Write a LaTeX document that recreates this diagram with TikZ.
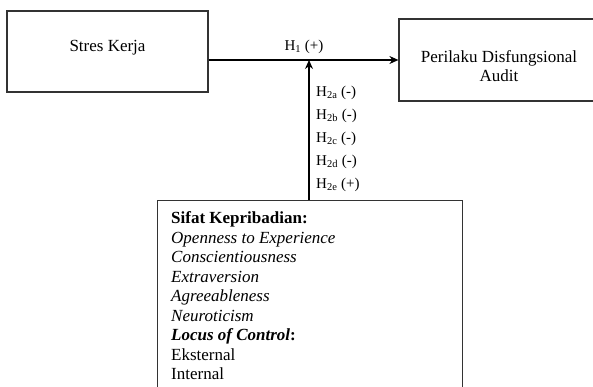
\documentclass[tikz,border=0pt]{standalone}
\usepackage{fontspec}
\setmainfont{Liberation Serif}
\usetikzlibrary{arrows.meta,calc}
\begin{document}
\begin{tikzpicture}[x=1pt,y=-1pt,
  box/.style={draw=black!80,line width=1.2pt,rectangle,inner sep=0pt,align=center,
    font=\fontsize{17}{19.5}\selectfont},
  conn/.style={draw=black,line width=1.3pt,-{Stealth[length=9pt,width=8pt]}},
  lbl/.style={inner sep=0pt,align=left,font=\fontsize{15}{23}\selectfont},
  txt/.style={inner sep=0pt,font=\fontsize{17}{19.5}\selectfont},
  listtext/.style={inner sep=0pt,align=left,font=\fontsize{17}{19.5}\selectfont}
]
\clip (0,0) rectangle (593,387);
\fill[white] (0,0) rectangle (593,387);
\node[box,minimum width=201pt,minimum height=81pt] (sk) at (107.5,51.5) {};
\node[txt] (sktext) at (107.5,48) {Stres Kerja};
\node[box,minimum width=200pt,minimum height=82pt] (pd) at (499,60) {};
\node[txt,align=center] (pdtext) at (499,66) {Perilaku Disfungsional\\Audit};
\node[box,minimum width=305pt,minimum height=220pt,anchor=north west] (sb) at (157,200) {};
\node[listtext,anchor=north west] (list) at (171,211.5) {\textbf{Sifat Kepribadian:}\\
\textit{Openness to Experience}\\
\textit{Conscientiousness}\\
\textit{Extraversion}\\
\textit{Agreeableness}\\
\textit{Neuroticism}\\
\textbf{\textit{Locus of Control}:}\\
Eksternal\\
Internal};
\coordinate (j) at (309,60);
\draw[conn] (sk.east |- pd.west) -- (pd.west);
\draw[conn] (sb.north -| j) -- (j);
\node[lbl] (h1) at (304,47) {H\textsubscript{1} (+)};
\node[lbl,anchor=west] (h2) at (316,139) {H\textsubscript{2a} (-)\\H\textsubscript{2b} (-)\\H\textsubscript{2c} (-)\\H\textsubscript{2d} (-)\\H\textsubscript{2e} (+)};
\end{tikzpicture}
\end{document}
